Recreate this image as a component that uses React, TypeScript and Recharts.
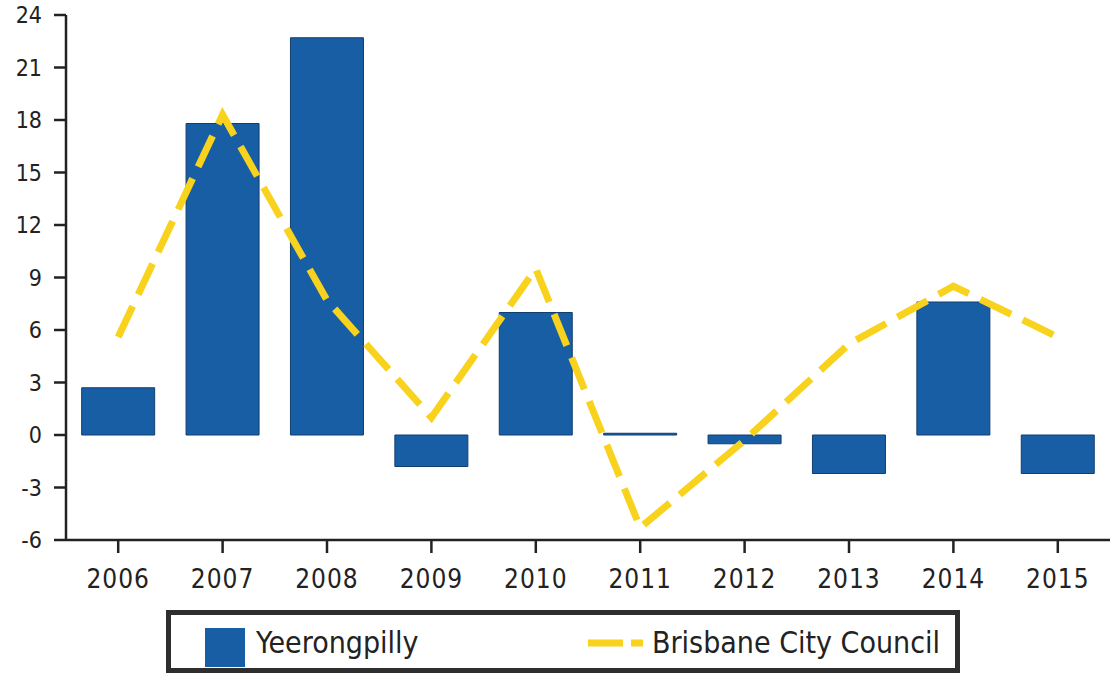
import { Bar, ComposedChart, Legend, Line, XAxis, YAxis } from "recharts"

// Annual change (%)
const years = ["2006", "2007", "2008", "2009", "2010", "2011", "2012", "2013", "2014", "2015"]
const yeerongpilly = [2.7, 17.8, 22.7, -1.8, 7.0, 0.1, -0.5, -2.2, 7.6, -2.2]
const brisbane = [5.6, 18.3, 7.7, 1.0, 9.5, -5.3, -0.3, 5.2, 8.5, 5.6]
const yTicks = [-6, -3, 0, 3, 6, 9, 12, 15, 18, 21, 24]

const data = years.map((year, i) => ({
  year,
  Yeerongpilly: yeerongpilly[i],
  "Brisbane City Council": brisbane[i],
}))

const FONT = "'DejaVu Sans Condensed', 'DejaVu Sans', sans-serif"
const BLUE = "#185ea5"
const YELLOW = "#f8d21c"
const INK = "#222"

function LegendBox() {
  return (
    <div
      style={{
        position: "relative",
        width: 794,
        height: 63,
        boxSizing: "border-box",
        border: "5px solid #2e2e2e",
        background: "#fff",
        fontFamily: FONT,
        fontSize: 30,
        color: INK,
      }}
    >
      <div style={{ position: "absolute", left: 34, top: 13, width: 40, height: 39, background: BLUE }} />
      <span style={{ position: "absolute", left: 85, top: 10, lineHeight: "36px" }}>Yeerongpilly</span>
      <svg style={{ position: "absolute", left: 412, top: 23 }} width={62} height={10}>
        <line x1={5} y1={5} x2={60} y2={5} stroke={YELLOW} strokeWidth={7} strokeDasharray="35 8" />
      </svg>
      <span style={{ position: "absolute", left: 481, top: 10, lineHeight: "36px" }}>Brisbane City Council</span>
    </div>
  )
}

export default function App() {
  return (
    <div style={{ position: "absolute", left: 0, top: 0, background: "#fff" }}>
      <ComposedChart
        width={1113}
        height={683}
        data={data}
        margin={{ top: 15, right: 3, bottom: 10, left: 0 }}
        barCategoryGap="15%"
      >
        <XAxis
          dataKey="year"
          axisLine={{ stroke: INK, strokeWidth: 2.5 }}
          tickLine={{ stroke: INK, strokeWidth: 2.5 }}
          tickSize={13}
          tickMargin={17}
          height={70}
          tick={{ fill: INK, fontSize: 26, fontFamily: FONT, letterSpacing: 1 }}
        />
        <YAxis
          yAxisId="left"
          domain={[-6, 24]}
          ticks={yTicks}
          interval={0}
          width={66}
          axisLine={{ stroke: INK, strokeWidth: 2.5 }}
          tickLine={{ stroke: INK, strokeWidth: 2.5 }}
          tickSize={12}
          tickMargin={12}
          tick={{ fill: INK, fontSize: 23, fontFamily: FONT }}
        />
        <YAxis
          yAxisId="right"
          orientation="right"
          domain={[-6, 24]}
          width={0}
          tick={false}
          tickLine={false}
          axisLine={{ stroke: INK, strokeWidth: 2.5 }}
        />
        <Bar
          yAxisId="left"
          dataKey="Yeerongpilly"
          fill={BLUE}
          stroke="#123e6e"
          strokeWidth={1}
          isAnimationActive={false}
        />
        <Line
          yAxisId="left"
          type="linear"
          dataKey="Brisbane City Council"
          stroke={YELLOW}
          strokeWidth={7}
          strokeDasharray="34 13"
          dot={false}
          activeDot={false}
          isAnimationActive={false}
        />
        <Legend
          verticalAlign="bottom"
          content={() => <LegendBox />}
          wrapperStyle={{ left: 166, width: 794 }}
        />
      </ComposedChart>
    </div>
  )
}
